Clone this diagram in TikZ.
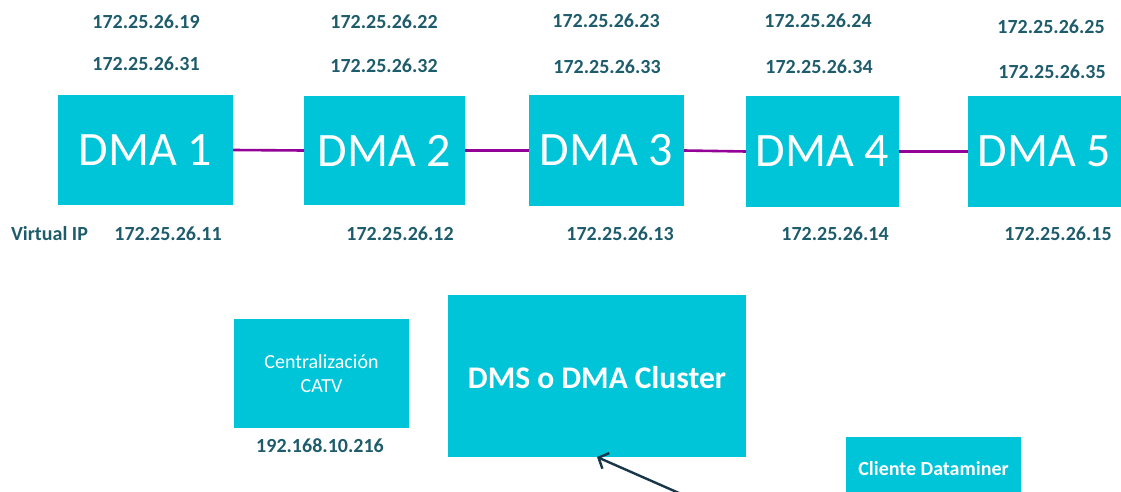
\documentclass[tikz,border=0pt]{standalone}
\usepackage{fontspec}
\setmainfont{Carlito}
\usetikzlibrary{arrows.meta}

\definecolor{boxcyan}{HTML}{00C5D8}
\definecolor{iptext}{HTML}{1E5C6C}
\definecolor{linkpurple}{HTML}{930397}
\definecolor{arrownavy}{HTML}{17364A}

\tikzset{
  box/.style={fill=boxcyan, draw=none, inner sep=0pt, outer sep=0pt, text=white, align=center},
  dmabox/.style={box, font=\fontsize{48}{52}\selectfont},
  ip/.style={text=iptext, inner sep=0pt, font=\fontsize{20}{24}\selectfont\bfseries},
  link/.style={draw=linkpurple, line width=2.6pt},
  pointer/.style={draw=arrownavy, line width=2.4pt, -{Straight Barb[length=8pt,width=17pt,line width=2.4pt]}}
}

\begin{document}
\begin{tikzpicture}[x=1pt, y=-1pt]
  \useasboundingbox (0,0) rectangle (1121,492);

  % DMA boxes of the cluster
  \node[dmabox, minimum width=175pt, minimum height=109pt] (dma1) at (145.5,150) {DMA 1};
  \node[dmabox, minimum width=161pt, minimum height=109pt] (dma2) at (384.5,150.5) {DMA 2};
  \node[dmabox, minimum width=155pt, minimum height=110pt] (dma3) at (606.5,150.5) {DMA 3};
  \node[dmabox, minimum width=153pt, minimum height=110pt] (dma4) at (822.5,151.5) {DMA 4};
  \node[dmabox, minimum width=153pt, minimum height=110pt] (dma5) at (1044.5,151.5) {DMA 5};

  % links between consecutive agents
  \draw[link] (dma1.east) -- (dma2.west);
  \draw[link] (dma2.east) -- (dma3.west);
  \draw[link] (dma3.east) -- (dma4.west);
  \draw[link] (dma4.east) -- (dma5.west);

  % addresses above each agent
  \node[ip] (ipa1) at (146,22) {172.25.26.19};
  \node[ip] (ipb1) at (146,64) {172.25.26.31};
  \node[ip] (ipa2) at (384,22) {172.25.26.22};
  \node[ip] (ipb2) at (384,66) {172.25.26.32};
  \node[ip] (ipa3) at (606,21) {172.25.26.23};
  \node[ip] (ipb3) at (607,67) {172.25.26.33};
  \node[ip] (ipa4) at (818,21) {172.25.26.24};
  \node[ip] (ipb4) at (819,67) {172.25.26.34};
  \node[ip] (ipa5) at (1051,27) {172.25.26.25};
  \node[ip] (ipb5) at (1052,72) {172.25.26.35};

  % virtual addresses below each agent
  \node[ip] (vlabel) at (49.5,234) {Virtual IP};
  \node[ip] (vip1) at (168,234) {172.25.26.11};
  \node[ip] (vip2) at (400,234) {172.25.26.12};
  \node[ip] (vip3) at (620,234) {172.25.26.13};
  \node[ip] (vip4) at (835,234) {172.25.26.14};
  \node[ip] (vip5) at (1058,234) {172.25.26.15};

  % lower row
  \node[box, minimum width=175pt, minimum height=109pt,
        font=\fontsize{20}{24}\selectfont] (catv) at (321.5,373.5)
        {Centralización\\[-0.5pt]CATV};
  \node[ip] (catvip) at (320,446) {192.168.10.216};

  \node[box, minimum width=298pt, minimum height=162pt] (dms) at (597,376) {};
  \node[text=white, inner sep=0pt, font=\fontsize{31.5}{36}\selectfont\bfseries]
        (dmstext) at (597,378) {DMS o DMA Cluster};

  \node[box, minimum width=175pt, minimum height=64pt] (client) at (933.5,469) {};
  \node[text=white, inner sep=0pt, font=\fontsize{20}{24}\selectfont\bfseries]
        (clienttext) at (933.5,469) {Cliente Dataminer};

  % request coming from below into the cluster
  \coordinate (from) at (688,497);
  \draw[pointer] (from) -- (dms.south);
\end{tikzpicture}
\end{document}
